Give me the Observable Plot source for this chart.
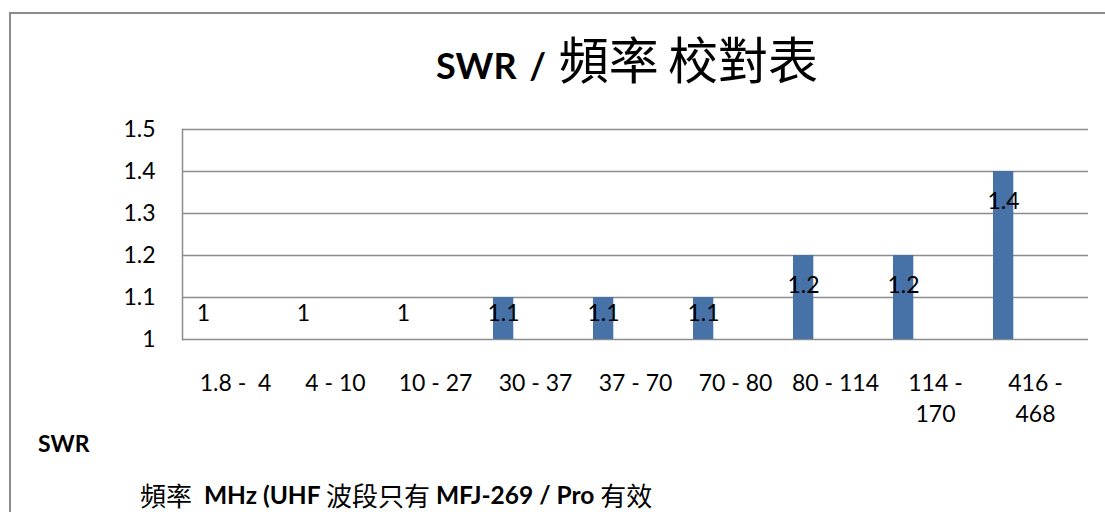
<!DOCTYPE html>
<html>
<head>
<meta charset="utf-8">
<script src="https://cdn.jsdelivr.net/npm/d3@7"></script>
<script src="https://cdn.jsdelivr.net/npm/@observablehq/plot@0.6"></script>
<style>
  html, body { margin: 0; padding: 0; background: #fff; }
  #wrap { position: relative; width: 1105px; height: 512px; overflow: hidden; font-family: Lato, "Noto Sans CJK TC", sans-serif; }
  #frame { position: absolute; left: 9px; top: 12px; width: 1200px; height: 700px; border-left: 2px solid #8c8c8c; border-top: 2px solid #8c8c8c; pointer-events: none; }
  #chart { position: absolute; left: 0; top: 0; }
  .cjk { font-family: "Noto Sans CJK TC", sans-serif; font-weight: 400; }
  #title { position: absolute; left: 436px; top: 29px; white-space: pre; line-height: 56px; height: 56px; color: #000; }
  #title .lat { font-family: Lato, sans-serif; font-weight: 700; font-size: 36px; word-spacing: 4px; }
  #title .cjk { font-size: 50px; word-spacing: -2px; }
  #ylab { position: absolute; left: 38px; top: 430px; font-family: Lato, sans-serif; font-weight: 700; font-size: 23px; line-height: 26px; }
  #xlab { position: absolute; left: 140px; top: 483px; white-space: pre; line-height: 24px; height: 24px; }
  #xlab span { display: inline-block; line-height: 24px; height: 24px; vertical-align: top; }
  #xlab .lat { font-family: Lato, sans-serif; font-weight: 700; font-size: 24.5px; }
  #xlab .cjk { font-size: 26px; }
  svg text { white-space: pre; }
</style>
</head>
<body>
<div id="wrap">
  <div id="chart"></div>
  <div id="title"><span class="lat">SWR / </span><span class="cjk">頻率 校對表</span></div>
  <div id="ylab">SWR</div>
  <div id="xlab"><span class="cjk">頻率</span><span class="lat">  MHz (UHF </span><span class="cjk">波段只有</span><span class="lat"> MFJ-269 / Pro </span><span class="cjk">有效</span></div>
  <div id="frame"></div>
</div>
<script>
// Data
const categories = ["1.8-4", "4-10", "10-27", "30-37", "37-70", "70-80", "80-114", "114-170", "416-468"];
const xLabels = ["1.8 -  4", "4 - 10", "10 - 27", "30 - 37", "37 - 70", "70 - 80", "80 - 114", "114 -\n170", "416 -\n468"];
const swrValues = [1, 1, 1, 1.1, 1.1, 1.1, 1.2, 1.2, 1.4];
const yTicks = [1, 1.1, 1.2, 1.3, 1.4, 1.5];

const data = categories.map((c, i) => ({cat: c, value: swrValues[i]}));
const labelOf = new Map(categories.map((c, i) => [c, xLabels[i]]));

const barColor = "#4672a8";
const gridColor = "#8c8c8c";

const chart = Plot.plot({
  width: 1105,
  height: 440,
  marginTop: 129,
  marginBottom: 101,
  marginLeft: 182,
  marginRight: 17,
  style: {background: "transparent", fontFamily: "Lato, sans-serif", fontSize: "22px", color: "#000"},
  x: {type: "band", domain: categories, padding: 0},
  y: {domain: [1, 1.5]},
  marks: [
    Plot.ruleY(yTicks, {stroke: gridColor, strokeWidth: 1.5}),
    Plot.frame({anchor: "left", stroke: gridColor, strokeWidth: 1.5}),
    Plot.barY(data, {x: "cat", y1: 1, y2: "value", fill: barColor, insetLeft: 8, insetRight: 71.7}),
    Plot.text(data, {x: "cat", y: d => Math.max(d.value, 1.134), dy: 30, dx: -32, text: d => String(d.value), fontSize: 23, fill: "#000"}),
    Plot.axisY(yTicks, {tickSize: 0, tickPadding: 27, tickFormat: d => String(d), fontSize: 23, label: null}),
    Plot.axisX({tickSize: 0, tickPadding: 29, tickFormat: d => labelOf.get(d), fontSize: 23, lineHeight: 1.35, label: null})
  ]
});
document.getElementById("chart").appendChild(chart);
</script>
</body>
</html>
